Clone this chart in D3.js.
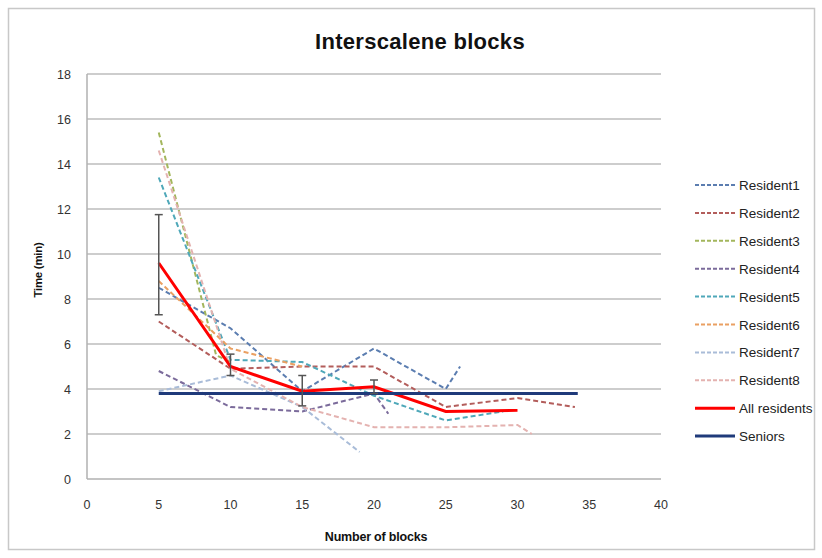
<!DOCTYPE html>
<html>
<head>
<meta charset="utf-8">
<script src="https://cdn.jsdelivr.net/npm/d3@7"></script>
<style>
  body { margin: 0; background: #fff; }
  text { font-family: "Liberation Sans", Arial, sans-serif; }
</style>
</head>
<body>
<svg id="chart" width="822" height="558"></svg>
<script>
// data (x = number of blocks, y = time in min)
const resident1 = [[5, 8.5], [10, 6.7], [15, 3.9], [20, 5.8], [25, 4.0], [26, 5.0]];
const resident2 = [[5, 7.0], [10, 4.9], [15, 5.0], [20, 5.0], [25, 3.2], [30, 3.6], [34, 3.2]];
const resident3 = [[5, 15.4], [9, 5.5], [10, 5.2]];
const resident4 = [[5, 4.8], [10, 3.2], [15, 3.0], [20, 3.8], [21, 2.9]];
const resident5 = [[5, 13.4], [10, 5.3], [15, 5.2], [20, 3.7], [25, 2.6], [29, 3.0]];
const resident6 = [[5, 8.8], [10, 5.8], [15, 5.0]];
const resident7 = [[5, 3.9], [10, 4.6], [15, 3.2], [19, 1.2]];
const resident8 = [[5, 14.6], [10, 4.9], [15, 3.2], [20, 2.3], [25, 2.3], [30, 2.4], [31, 2.0]];
const allResidents = [[5, 9.6], [10, 5.0], [15, 3.9], [20, 4.1], [25, 3.0], [30, 3.05]];
const seniors = [[5, 3.8], [34.2, 3.8]];
// error bars on the "All residents" line: [x, low, high]
const errorBars = [[5, 7.3, 11.75], [10, 4.6, 5.55], [15, 3.25, 4.6], [20, 3.8, 4.4]];

const xTicks = [0, 5, 10, 15, 20, 25, 30, 35, 40];
const yTicks = [0, 2, 4, 6, 8, 10, 12, 14, 16, 18];

const series = [
  { name: 'Resident1', data: resident1, color: '#5b7db0', dashed: true },
  { name: 'Resident2', data: resident2, color: '#b35d5b', dashed: true },
  { name: 'Resident3', data: resident3, color: '#a3b65c', dashed: true },
  { name: 'Resident4', data: resident4, color: '#7b6b9b', dashed: true },
  { name: 'Resident5', data: resident5, color: '#4fa8b9', dashed: true },
  { name: 'Resident6', data: resident6, color: '#eaa062', dashed: true },
  { name: 'Resident7', data: resident7, color: '#a9bcd8', dashed: true },
  { name: 'Resident8', data: resident8, color: '#e4b2b0', dashed: true },
  { name: 'All residents', data: allResidents, color: '#ff0000', dashed: false },
  { name: 'Seniors', data: seniors, color: '#1f3a7a', dashed: false }
];

const svg = d3.select('#chart');

// outer chart border
svg.append('rect')
  .attr('x', 8.5).attr('y', 8.5)
  .attr('width', 806).attr('height', 541)
  .attr('fill', 'none')
  .attr('stroke', '#c8c8c8')
  .attr('stroke-width', 1.5);

const x = d3.scaleLinear().domain([0, 40]).range([87, 661]);
const y = d3.scaleLinear().domain([0, 18]).range([479, 74]);

// gridlines
svg.append('g')
  .selectAll('line')
  .data(yTicks.filter(d => d > 0))
  .join('line')
  .attr('x1', x(0)).attr('x2', x(40))
  .attr('y1', d => y(d)).attr('y2', d => y(d))
  .attr('stroke', '#bdbdbd')
  .attr('stroke-width', 1.5);

// axes lines
svg.append('line')
  .attr('x1', x(0)).attr('x2', x(0))
  .attr('y1', y(18)).attr('y2', y(0))
  .attr('stroke', '#b0b0b0').attr('stroke-width', 1.5);
svg.append('line')
  .attr('x1', x(0)).attr('x2', x(40))
  .attr('y1', y(0)).attr('y2', y(0))
  .attr('stroke', '#b0b0b0').attr('stroke-width', 1.5);

// tick labels
svg.append('g')
  .selectAll('text')
  .data(yTicks)
  .join('text')
  .attr('x', 71)
  .attr('y', d => y(d) + 4.5)
  .attr('text-anchor', 'end')
  .attr('font-size', 12.5)
  .attr('fill', '#333')
  .text(d => d);

svg.append('g')
  .selectAll('text')
  .data(xTicks)
  .join('text')
  .attr('x', d => x(d))
  .attr('y', 509)
  .attr('text-anchor', 'middle')
  .attr('font-size', 12.5)
  .attr('fill', '#333')
  .text(d => d);

// title and axis titles
svg.append('text')
  .attr('x', 420).attr('y', 49)
  .attr('text-anchor', 'middle')
  .attr('font-size', 22)
  .attr('font-weight', 'bold')
  .attr('fill', '#111')
  .attr('letter-spacing', 0.3)
  .text('Interscalene blocks');

svg.append('text')
  .attr('x', 376).attr('y', 541)
  .attr('text-anchor', 'middle')
  .attr('font-size', 12.5)
  .attr('font-weight', 'bold')
  .attr('fill', '#111')
  .attr('letter-spacing', -0.2)
  .text('Number of blocks');

svg.append('text')
  .attr('transform', 'translate(42,270) rotate(-90)')
  .attr('text-anchor', 'middle')
  .attr('font-size', 11.5)
  .attr('font-weight', 'bold')
  .attr('fill', '#111')
  .attr('letter-spacing', -0.3)
  .text('Time (min)');

const line = d3.line()
  .x(d => x(d[0]))
  .y(d => y(d[1]));

// series lines
svg.append('g')
  .selectAll('path')
  .data(series)
  .join('path')
  .attr('d', d => line(d.data))
  .attr('fill', 'none')
  .attr('stroke', d => d.color)
  .attr('stroke-width', d => d.dashed ? 2 : 3)
  .attr('stroke-dasharray', d => d.dashed ? '5,3' : null);

// error bars
const eb = svg.append('g').attr('stroke', '#555').attr('stroke-width', 1.5);
errorBars.forEach(([bx, lo, hi]) => {
  eb.append('line').attr('x1', x(bx)).attr('x2', x(bx)).attr('y1', y(lo)).attr('y2', y(hi));
  eb.append('line').attr('x1', x(bx) - 4).attr('x2', x(bx) + 4).attr('y1', y(lo)).attr('y2', y(lo));
  eb.append('line').attr('x1', x(bx) - 4).attr('x2', x(bx) + 4).attr('y1', y(hi)).attr('y2', y(hi));
});

// legend
const legend = svg.append('g')
  .selectAll('g')
  .data(series)
  .join('g')
  .attr('transform', (d, i) => `translate(695, ${185 + i * 27.9})`);

legend.append('line')
  .attr('x1', 0).attr('x2', 40)
  .attr('stroke', d => d.color)
  .attr('stroke-width', d => d.dashed ? 2 : 3)
  .attr('stroke-dasharray', d => d.dashed ? '4,2' : null);

legend.append('text')
  .attr('x', 44).attr('y', 5)
  .attr('font-size', 13.5)
  .attr('fill', '#222')
  .text(d => d.name);
</script>
</body>
</html>
